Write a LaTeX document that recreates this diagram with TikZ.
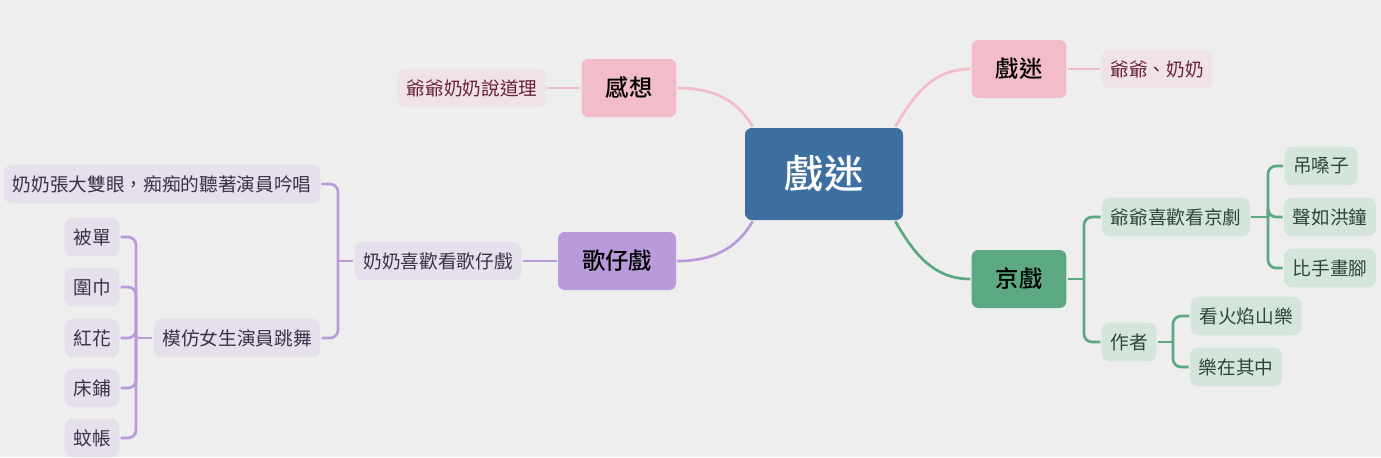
\documentclass[tikz,border=0pt]{standalone}
\usepackage{fontspec}
\setmainfont{Noto Sans CJK TC}
\newfontfamily\medcjk{Noto Sans CJK TC Medium}
\usetikzlibrary{calc}
\definecolor{paper}{HTML}{EFEEEE}
\definecolor{hubblue}{HTML}{3D70A0}
\definecolor{pinkmain}{HTML}{F2BCC8}
\definecolor{pinksub}{HTML}{F0E3E7}
\definecolor{pinkink}{HTML}{6A1F3C}
\definecolor{lilacmain}{HTML}{B99BDB}
\definecolor{lilacsub}{HTML}{E6E0EC}
\definecolor{lilacink}{HTML}{3B3049}
\definecolor{jademain}{HTML}{5BA882}
\definecolor{jadesub}{HTML}{D4E5DC}
\definecolor{jadeink}{HTML}{2E463B}

\begin{document}
\begin{tikzpicture}[x=0.75pt,y=-0.75pt,line width=2pt,
  hubbox/.style={fill=hubblue,rounded corners=5pt,text=white,
    font=\medcjk\fontsize{29.5}{29.5}\selectfont,minimum width=118.5pt,minimum height=69pt},
  mainbox/.style={rounded corners=5pt,font=\medcjk\fontsize{17.5}{17.5}\selectfont,
    minimum height=43.5pt,inner xsep=18pt},
  leafbox/.style={rounded corners=6pt,font=\fontsize{14}{14}\selectfont,
    minimum height=29pt,inner xsep=6.5pt},
  pinkleaf/.style={leafbox,fill=pinksub,text=pinkink},
  lilacleaf/.style={leafbox,fill=lilacsub,text=lilacink},
  jadeleaf/.style={leafbox,fill=jadesub,text=jadeink},
  elbow/.style={rounded corners=6pt}]
  \fill[paper] (0,0) rectangle (1381,457);
  \useasboundingbox (0,0) rectangle (1381,457);

  % the hub and its four branches
  \node[hubbox] (hub) at (824,174) {戲迷};
  \node[mainbox,fill=pinkmain] (gx) at (629,88) {感想};
  \node[mainbox,fill=pinkmain] (fm) at (1019,69) {戲迷};
  \node[mainbox,fill=lilacmain] (gz) at (617,261) {歌仔戲};
  \node[mainbox,fill=jademain] (jx) at (1019,279) {京戲};

  \draw[pinkmain] (gx.east) to[out=0,in=120] ($(hub.north west)+(9,0)$);
  \draw[pinkmain] ($(hub.north east)+(-9,0)$) to[out=60,in=180] (fm.west);
  \draw[lilacmain] (gz.east) to[out=0,in=240] ($(hub.south west)+(9,0)$);
  \draw[jademain] ($(hub.south east)+(-9,0)$) to[out=-60,in=180] (jx.west);

  % pink side
  \node[pinkleaf] (gxs) at (472,88) {爺爺奶奶說道理};
  \node[pinkleaf] (fms) at (1157,69) {爺爺、奶奶};
  \draw[pinkmain] (gx.west) -- (gxs.east);
  \draw[pinkmain] (fm.east) -- (fms.west);

  % lilac side
  \node[lilacleaf] (gzs) at (438,261) {奶奶喜歡看歌仔戲};
  \node[lilacleaf] (zd) at (162,184) {奶奶張大雙眼，痴痴的聽著演員吟唱};
  \node[lilacleaf] (mf) at (237,338) {模仿女生演員跳舞};
  \node[lilacleaf] (bd) at (92,237) {被單};
  \node[lilacleaf] (wj) at (92,287) {圍巾};
  \node[lilacleaf] (hh) at (92,338) {紅花};
  \node[lilacleaf] (cp) at (92,388) {床鋪};
  \node[lilacleaf] (wz) at (92,438) {蚊帳};
  \coordinate (gzt) at (338,261);
  \coordinate (mft) at (136,338);
  \draw[lilacmain] (gz.west) -- (gzs.east);
  \draw[lilacmain] (gzs.west) -- (gzt);
  \foreach \n in {zd,mf}
    \draw[lilacmain,elbow] (gzt) |- (\n.east);
  \draw[lilacmain] (mf.west) -- (mft);
  \foreach \n in {bd,wj,hh,cp,wz}
    \draw[lilacmain,elbow] (mft) |- (\n.east);

  % jade side
  \node[jadeleaf] (yy) at (1176,217) {爺爺喜歡看京劇};
  \node[jadeleaf] (zz) at (1129,342) {作者};
  \node[jadeleaf] (dsz) at (1321,166) {吊嗓子};
  \node[jadeleaf] (sr) at (1330,217) {聲如洪鐘};
  \node[jadeleaf] (bs) at (1330,268) {比手畫腳};
  \node[jadeleaf] (hy) at (1246,316) {看火焰山樂};
  \node[jadeleaf] (lz) at (1236,367) {樂在其中};
  \coordinate (jxt) at (1084,279);
  \coordinate (yyt) at (1268,217);
  \coordinate (zzt) at (1173,342);
  \draw[jademain] (jx.east) -- (jxt);
  \foreach \n in {yy,zz}
    \draw[jademain,elbow] (jxt) |- (\n.west);
  \draw[jademain] (yy.east) -- (yyt);
  \foreach \n in {dsz,sr,bs}
    \draw[jademain,elbow] (yyt) |- (\n.west);
  \draw[jademain] (zz.east) -- (zzt);
  \foreach \n in {hy,lz}
    \draw[jademain,elbow] (zzt) |- (\n.west);
\end{tikzpicture}
\end{document}
